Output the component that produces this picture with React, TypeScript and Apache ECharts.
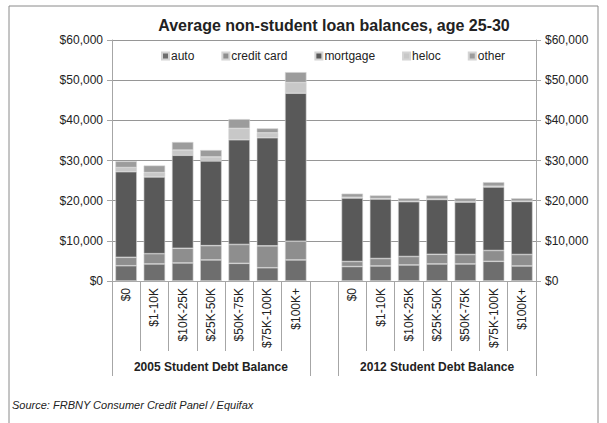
import React, { useEffect, useRef } from "react";
import * as echarts from "echarts";

const categories = ["$0", "$1-10K", "$10K-25K", "$25K-50K", "$50K-75K", "$75K-100K", "$100K+"];
const groupLabels = ["2005 Student Debt Balance", "2012 Student Debt Balance"];
const seriesNames = ["auto", "credit card", "mortgage", "heloc", "other"];
const seriesColors = ["#6e6e6e", "#8e8e8e", "#595959", "#c8c8c8", "#9c9c9c"];

const auto2005 = [3800, 4250, 4500, 5250, 4400, 3300, 5250];
const credit2005 = [2100, 2550, 3650, 3550, 4700, 5450, 4650];
const mortgage2005 = [21300, 19100, 23150, 21100, 26050, 26900, 36850];
const heloc2005 = [1050, 1100, 1300, 1000, 2850, 1250, 2650];
const other2005 = [1550, 1750, 2000, 1700, 2300, 1100, 2600];

const auto2012 = [3600, 3750, 4000, 4250, 4250, 4900, 3750];
const credit2012 = [1250, 1850, 2100, 2400, 2350, 2700, 2850];
const mortgage2012 = [15800, 14800, 13650, 13650, 13050, 15800, 13200];
const heloc2012 = [200, 150, 100, 100, 100, 200, 100];
const other2012 = [900, 750, 750, 900, 850, 1000, 700];

const yTicks = { min: 0, max: 60000, interval: 10000 };

const GRID_LEFT = 112;
const GRID_RIGHT_X = 536;
const GRID_TOP = 40;
const GRID_BOTTOM_Y = 281;

export default function App() {
  const ref = useRef<HTMLDivElement>(null);

  useEffect(() => {
    if (!ref.current) return;
    const chart = echarts.init(ref.current, undefined, { renderer: "svg" });

    const xData = [...categories, "", ...categories];
    const join = (a: number[], b: number[]) => [...a, "-", ...b];
    const seriesData = [
      join(auto2005, auto2012),
      join(credit2005, credit2012),
      join(mortgage2005, mortgage2012),
      join(heloc2005, heloc2012),
      join(other2005, other2012),
    ];

    const nCat = xData.length;
    const catW = (GRID_RIGHT_X - GRID_LEFT) / nCat;
    const longIdx = [0, categories.length, categories.length + 1, nCat];
    const fmt = (v: number) => "$" + v.toLocaleString("en-US");
    const font = "Liberation Sans, Arial, sans-serif";
    const textColor = "#222";

    const graphics: any[] = [
      {
        type: "rect",
        shape: { x: 9, y: 6, width: 589, height: 430 },
        style: { fill: "none", stroke: "#8a8a8a", lineWidth: 1 },
        silent: true,
      },
      ...longIdx.map((i) => ({
        type: "line",
        shape: {
          x1: Math.round(GRID_LEFT + i * catW) + 0.5,
          y1: GRID_BOTTOM_Y,
          x2: Math.round(GRID_LEFT + i * catW) + 0.5,
          y2: 376,
        },
        style: { stroke: "#a6a6a6", lineWidth: 1 },
        silent: true,
      })),
      ...groupLabels.map((t, g) => ({
        type: "text",
        x: GRID_LEFT + (g * (categories.length + 1) + categories.length / 2) * catW,
        y: 367,
        style: {
          text: t,
          font: "bold 12px " + font,
          fill: textColor,
          align: "center",
          verticalAlign: "middle",
        },
      })),
      {
        type: "text",
        x: 12,
        y: 405,
        style: {
          text: "Source: FRBNY Consumer Credit Panel / Equifax",
          font: "italic 11px " + font,
          fill: textColor,
          align: "left",
          verticalAlign: "middle",
        },
      },
    ];

    const yAxisBase = {
      type: "value",
      min: yTicks.min,
      max: yTicks.max,
      interval: yTicks.interval,
      axisLine: { show: true, lineStyle: { color: "#a6a6a6" } },
      axisTick: { show: true, length: 5, lineStyle: { color: "#a6a6a6" } },
      axisLabel: { formatter: fmt, fontSize: 12, fontFamily: font, color: textColor, margin: 9 },
    };

    chart.setOption({
      animation: false,
      backgroundColor: "#fff",
      textStyle: { fontFamily: font },
      title: {
        text: "Average non-student loan balances, age 25-30",
        left: (GRID_LEFT + GRID_RIGHT_X) / 2 + 5,
        textAlign: "center",
        top: 12,
        textStyle: { fontSize: 16, fontWeight: "bold", color: textColor, fontFamily: font },
      },
      legend: {
        data: seriesNames,
        top: 45,
        left: 156,
        icon: "rect",
        itemWidth: 7,
        itemHeight: 7,
        itemGap: 27,
        textStyle: { fontSize: 12, color: textColor, fontFamily: font, padding: [0, 0, 0, -3] },
      },
      grid: {
        left: GRID_LEFT,
        top: GRID_TOP,
        width: GRID_RIGHT_X - GRID_LEFT,
        height: GRID_BOTTOM_Y - GRID_TOP,
        containLabel: false,
      },
      xAxis: {
        type: "category",
        data: xData,
        boundaryGap: true,
        axisLine: { show: true, lineStyle: { color: "#a6a6a6" } },
        axisTick: { show: true, interval: 0, length: 70, lineStyle: { color: "#a6a6a6" } },
        axisLabel: {
          interval: 0,
          rotate: 90,
          fontSize: 12,
          fontFamily: font,
          color: textColor,
          margin: 7,
        },
      },
      yAxis: [
        {
          ...yAxisBase,
          position: "left",
          splitLine: { show: true, lineStyle: { color: "#969696" } },
        },
        {
          ...yAxisBase,
          position: "right",
          splitLine: { show: false },
        },
      ],
      series: seriesNames.map((name, i) => ({
        name,
        type: "bar",
        stack: "total",
        data: seriesData[i],
        barCategoryGap: "24%",
        itemStyle: { color: seriesColors[i], borderColor: "#d4d4d4", borderWidth: 0.6 },
      })),
      graphic: graphics,
    });

    return () => chart.dispose();
  }, []);

  return (
    <div
      ref={ref}
      style={{ position: "fixed", left: 0, top: 0, width: 607, height: 423, background: "#fff" }}
    />
  );
}
